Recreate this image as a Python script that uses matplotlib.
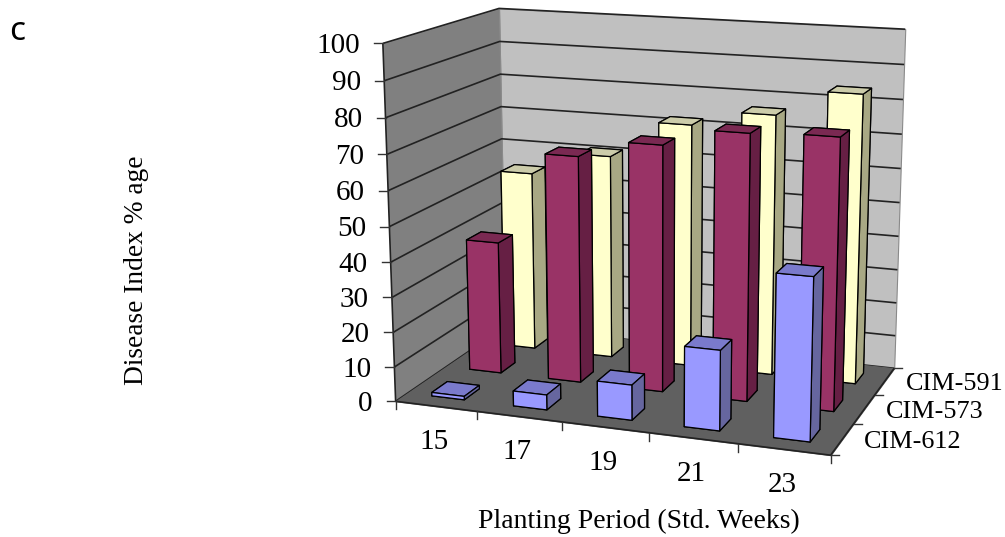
import numpy as np
import matplotlib
matplotlib.use("Agg")
import matplotlib.pyplot as plt
from matplotlib.lines import Line2D
from mpl_toolkits.mplot3d import proj3d
from mpl_toolkits.mplot3d.art3d import Poly3DCollection, Line3DCollection

weeks = ["15", "17", "19", "21", "23"]
varieties = ["CIM-612", "CIM-573", "CIM-591"]
cim_612 = [1, 4.3, 10, 22.5, 45]
cim_573 = [39, 66, 71, 76, 76.7]
cim_591 = [54, 61, 72, 76.5, 84]
z_ticks = [0, 10, 20, 30, 40, 50, 60, 70, 80, 90, 100]

series = [cim_612, cim_573, cim_591]
# front, top, side shades per series
shades = [("#9999ff", "#7a7acc", "#66669f"),
          ("#993366", "#7a2952", "#661f44"),
          ("#ffffcc", "#ccccaa", "#a8a884")]

# box corners (x, y, z) and where they sit in the picture, used for the camera
corners = np.array([[0, 0, 0], [5, 0, 0], [5, 3, 0], [0, 3, 0],
                    [0, 0, 100], [0, 3, 100], [5, 3, 100]], dtype=float)
pixels = np.array([[397, 399], [830, 458], [895, 365], [504, 329],
                   [382, 43], [500, 8], [905, 30]], dtype=float)

rows = []
for (x, y, z), (u, v) in zip(corners, pixels):
    rows.append([x, y, z, 1, 0, 0, 0, 0, -u*x, -u*y, -u*z, -u])
    rows.append([0, 0, 0, 0, x, y, z, 1, -v*x, -v*y, -v*z, -v])
cam = np.linalg.svd(np.array(rows))[2][-1].reshape(3, 4)
if cam[2, 3] < 0:
    cam = -cam
# third row only gives the depth order
M = np.array([cam[0], cam[1], [0, 0, 0, -1], cam[2]])

fig = plt.figure(figsize=(10.05, 5.37), dpi=100)
ax = fig.add_subplot(projection="3d")
ax.set_position([0, 0, 1, 1])
ax.apply_aspect = lambda position=None: None
ax.get_proj = lambda: M
ax.viewLim.intervalx = (0, 1005)
ax.viewLim.intervaly = (537, 0)
ax.computed_zorder = False
ax.set_axis_off()


def label(x, y, z, dx, dy, s, **kw):
    px, py, _ = proj3d.proj_transform(x, y, z, M)
    ax.text2D(px + dx, py + dy, s, transform=ax.transData, va="center",
              family="Liberation Serif", color="black", **kw)


def tick(x, y, z, dx, dy):
    px, py, _ = proj3d.proj_transform(x, y, z, M)
    fig.add_artist(Line2D([px, px + dx], [py, py + dy], transform=ax.transData,
                          color="#333333", lw=1.0))


def lines(segs, col="#222222", lw=1.2, zorder=2):
    ax.add_collection3d(Line3DCollection(segs, colors=col, linewidths=lw, zorder=zorder))


floor = [(0, 0, 0), (5, 0, 0), (5, 3, 0), (0, 3, 0)]
left = [(0, 0, 0), (0, 3, 0), (0, 3, 100), (0, 0, 100)]
back = [(0, 3, 0), (5, 3, 0), (5, 3, 100), (0, 3, 100)]
for poly, col in [(back, "#c0c0c0"), (left, "#808080")]:
    ax.add_collection3d(Poly3DCollection([poly], facecolors=col, edgecolors="#8a8a8a",
                                         linewidths=0.8, zorder=1))

for z in z_ticks:
    lines([[(0, 0, z), (0, 3, z), (5, 3, z)]], zorder=2)
    tick(0, 0, z, -9, 0)
    label(0, 0, z, -23, 2.5, str(z), ha="right", fontsize=21)

ax.add_collection3d(Poly3DCollection([floor], facecolors="#606060", edgecolors="#606060",
                                     linewidths=0.8, zorder=3))
lines([[(0, 0, 0), (0, 0, 100)]], zorder=3)
lines([[(0, 0, 0), (5, 0, 0), (5, 3, 0)]], zorder=4)

for i in range(6):
    tick(i, 0, 0, 0, 8)
for i, w in enumerate(weeks):
    label(i + 0.5, 0, 0, -2, 35.5, w, ha="center", fontsize=21)
for j in range(4):
    tick(5, j, 0, 8, 0)
for j, v in enumerate(varieties):
    label(5, j + 0.5, 0, 21.5, 3, v, ha="left", fontsize=18.8)

# back row first, left to right, so nearer bars cover the farther ones
bar_w = 0.4
order = 10
for j in reversed(range(3)):
    front, top, side = shades[j]
    for i, val in enumerate(series[j]):
        ax.bar3d(i + 0.5 - bar_w/2, j + 0.5 - bar_w/2, 0, bar_w, bar_w, val,
                 color=[front, top, front, front, side, side], shade=False,
                 edgecolor="black", linewidth=0.9, zorder=order)
        order += 1

fig.text(136/1005, 1 - 270/537, "Disease Index % age", rotation=90, ha="center", va="center",
         fontsize=19.7, family="Liberation Serif")
fig.text(639/1005, 1 - 521/537, "Planting Period (Std. Weeks)", ha="center", va="center",
         fontsize=20, family="Liberation Serif")
fig.text(17/1005, 1 - 31/537, "c", ha="center", va="center", fontsize=24, family="Noto Sans")

fig.savefig("out.png", dpi=100)
